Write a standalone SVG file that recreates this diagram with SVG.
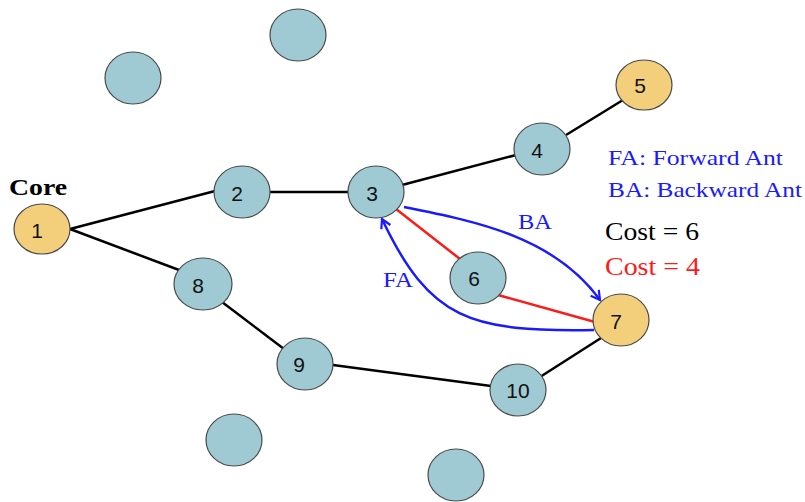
<svg xmlns="http://www.w3.org/2000/svg" width="805" height="502" viewBox="0 0 805 502">
  <defs>
    <style>
      .node { stroke: #4a4a4a; stroke-width: 1.2; }
      .teal { fill: #9fcad3; }
      .gold { fill: #f4cf7b; }
      .num { font-family: "Liberation Sans", Arial, sans-serif; font-size: 21px; fill: #111; text-anchor: middle; dominant-baseline: central; }
      .edge { stroke: #000; stroke-width: 2.5; fill: none; }
      .red { stroke: #ff1a1a; stroke-width: 2.5; fill: none; }
      .ant { stroke: #1a1aff; stroke-width: 2.5; fill: none; }
      .serif { font-family: "Liberation Serif", "Times New Roman", serif; }
    </style>
    <marker id="arrow" markerWidth="12" markerHeight="12" refX="10" refY="6" orient="auto" markerUnits="userSpaceOnUse">
      <path d="M1,1 L10,6 L1,11" fill="none" stroke="#1a1aff" stroke-width="2.2"/>
    </marker>
  </defs>

  <g id="connectors">
    <line class="edge" x1="70" y1="229" x2="215" y2="191"/>
    <line class="edge" x1="70" y1="229" x2="179" y2="270"/>
    <line class="edge" x1="222" y1="302" x2="284" y2="349"/>
    <line class="edge" x1="333" y1="365" x2="491" y2="386"/>
    <line class="edge" x1="540" y1="377" x2="601" y2="338"/>
    <line class="edge" x1="270" y1="192" x2="348" y2="192"/>
    <line class="edge" x1="402" y1="185" x2="516" y2="155"/>
    <line class="edge" x1="566" y1="135" x2="623" y2="100"/>
    <line class="red" x1="396" y1="209" x2="460" y2="259"/>
    <line class="red" x1="498" y1="295" x2="595" y2="322"/>
    <path class="ant" d="M404,207 C480,222 555,238 600,300" marker-end="url(#arrow)"/>
    <path class="ant" d="M594,330 C470,332 430,320 382,219" marker-end="url(#arrow)"/>
  </g>

  <g id="node-1"><ellipse class="node gold" cx="42" cy="229" rx="28" ry="25"/><text class="num" x="37" y="230">1</text></g>
  <g id="node-2"><ellipse class="node teal" cx="242" cy="192" rx="28" ry="26"/><text class="num" x="237" y="193">2</text></g>
  <g id="node-3"><ellipse class="node teal" cx="376" cy="192" rx="28" ry="26"/><text class="num" x="372" y="193">3</text></g>
  <g id="node-4"><ellipse class="node teal" cx="542" cy="149" rx="28" ry="26"/><text class="num" x="537" y="150">4</text></g>
  <g id="node-5"><ellipse class="node gold" cx="644" cy="85" rx="28" ry="25"/><text class="num" x="640" y="85">5</text></g>
  <g id="node-6"><ellipse class="node teal" cx="478" cy="278" rx="28" ry="26"/><text class="num" x="474" y="278">6</text></g>
  <g id="node-7"><ellipse class="node gold" cx="621" cy="320" rx="28" ry="26"/><text class="num" x="616" y="321">7</text></g>
  <g id="node-8"><ellipse class="node teal" cx="203" cy="284" rx="29" ry="26"/><text class="num" x="198" y="285">8</text></g>
  <g id="node-9"><ellipse class="node teal" cx="305" cy="364" rx="28" ry="26"/><text class="num" x="299" y="364">9</text></g>
  <g id="node-10"><ellipse class="node teal" cx="518" cy="390" rx="28" ry="26"/><text class="num" x="518" y="390">10</text></g>
  <g id="node-a"><ellipse class="node teal" cx="133" cy="78" rx="28" ry="26"/></g>
  <g id="node-b"><ellipse class="node teal" cx="298" cy="35" rx="28" ry="26"/></g>
  <g id="node-c"><ellipse class="node teal" cx="234" cy="440" rx="28" ry="26"/></g>
  <g id="node-d"><ellipse class="node teal" cx="456" cy="475" rx="28" ry="26"/></g>

  <g id="labels" class="serif">
    <text x="9" y="195" font-size="24" font-weight="bold" fill="#000" textLength="58" lengthAdjust="spacingAndGlyphs">Core</text>
    <text x="518" y="229" font-size="21" fill="#1a1aff" textLength="34" lengthAdjust="spacingAndGlyphs">BA</text>
    <text x="383" y="287" font-size="21" fill="#1a1aff" textLength="30" lengthAdjust="spacingAndGlyphs">FA</text>
    <text x="608" y="165" font-size="22" fill="#1a1aff" textLength="175" lengthAdjust="spacingAndGlyphs">FA: Forward Ant</text>
    <text x="608" y="197" font-size="22" fill="#1a1aff" textLength="194" lengthAdjust="spacingAndGlyphs">BA: Backward Ant</text>
    <text x="605" y="240" font-size="26" fill="#000" textLength="94" lengthAdjust="spacingAndGlyphs">Cost = 6</text>
    <text x="605" y="275" font-size="26" fill="#ff1a1a" textLength="95" lengthAdjust="spacingAndGlyphs">Cost = 4</text>
  </g>
</svg>
